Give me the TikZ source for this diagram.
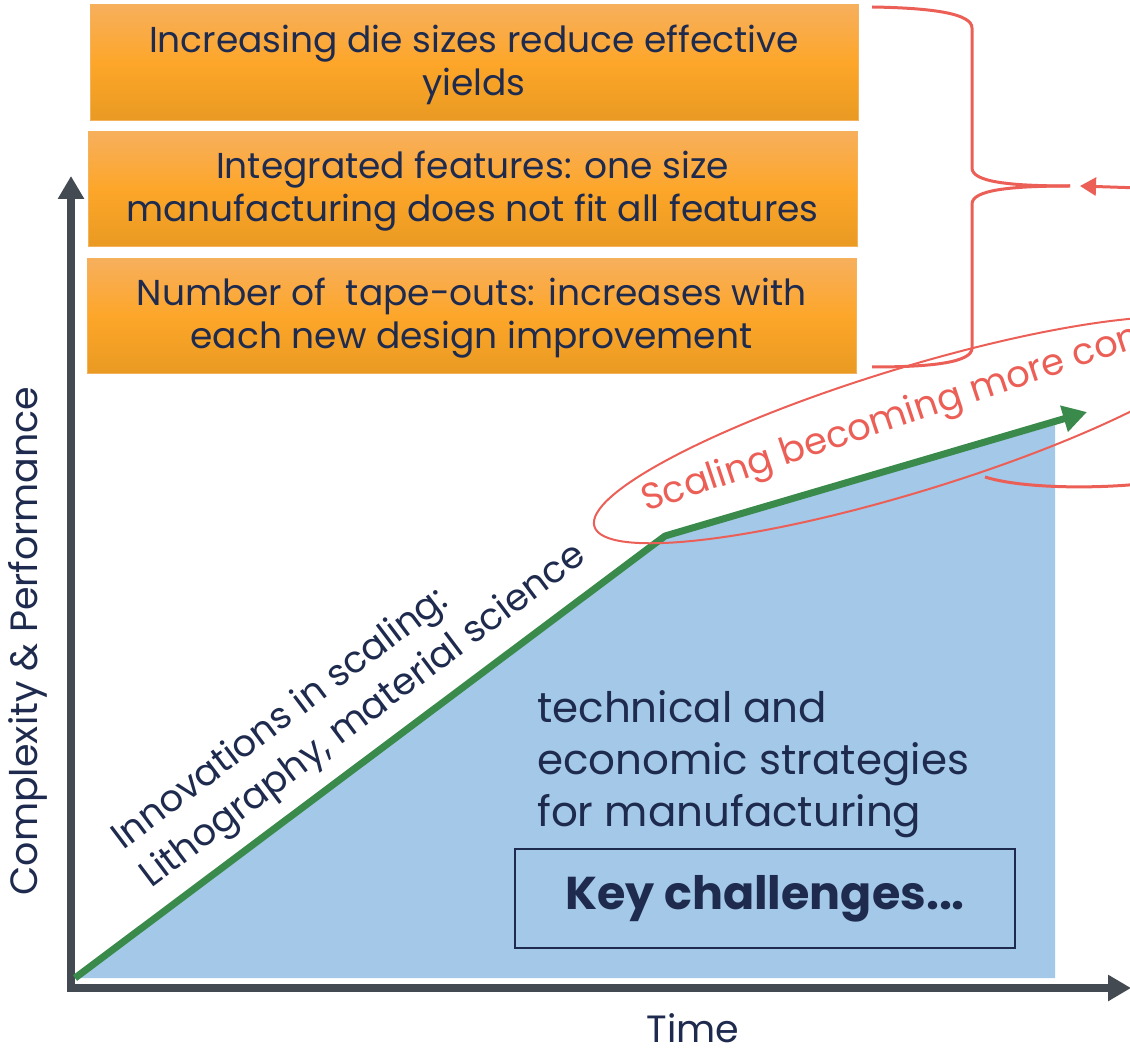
\documentclass[tikz,border=0pt]{standalone}
\usepackage{fontspec}
\setmainfont{Poppins}
\usetikzlibrary{positioning,arrows.meta}
\definecolor{navy}{HTML}{1E2B4E}
\definecolor{axisgray}{HTML}{434A52}
\definecolor{trendgreen}{HTML}{3A8A4C}
\definecolor{areablue}{HTML}{A3C8E8}
\definecolor{markred}{HTML}{EB5F57}
\definecolor{orangetop}{HTML}{F7AF5C}
\definecolor{orangemid}{HTML}{FDA629}
\definecolor{orangebot}{HTML}{E99A22}
\definecolor{orangeline}{HTML}{F5B25C}

\begin{document}
\begin{tikzpicture}[x=1pt,y=-1pt,
  orangebox/.style={rectangle, draw=orangeline, line width=1pt,
    top color=orangetop, bottom color=orangebot, middle color=orangemid,
    text=navy, align=center, inner sep=0pt,
    font=\fontsize{36}{43}\selectfont},
  bracket/.style={draw=markred, line width=3pt},
  axisline/.style={draw=axisgray, line width=8pt,
    -{Triangle[length=23pt,width=25pt]}},
  labeltext/.style={text=navy, font=\fontsize{38}{44}\selectfont}]
\useasboundingbox (0,0) rectangle (1130,1048);
\clip (0,0) rectangle (1130,1048);
% Area under the curve
\coordinate (origin) at (71,988);
\coordinate (start) at (75,978);
\coordinate (kink) at (665,536);
\coordinate (tip) at (1087,412);
\fill[areablue] (start) -- (kink) -- (1055,425) -- (1055,978) -- cycle;
% Axes
\coordinate (ytip) at (71,176);
\coordinate (xtip) at (1131,988);
\draw[axisline] (71,992) -- (ytip);
\draw[axisline] (67,988) -- (xtip);
% Trend line
\draw[trendgreen, line width=7pt, line join=round,
  -{Triangle[length=24pt,width=26pt]}] (start) -- (kink) -- (tip);
% Challenge boxes
\node[orangebox, minimum width=768pt, minimum height=116pt] (yields) at (474,63)
  {\rule{0pt}{31pt}Increasing die sizes reduce effective\\yields};
\node[orangebox, minimum width=769pt, minimum height=115pt] (features) at (472.5,189.5)
  {\rule{0pt}{31pt}Integrated features: one size\\manufacturing does not fit all features};
\node[orangebox, minimum width=769pt, minimum height=115pt] (tapeouts) at (471.5,316.5)
  {\rule{0pt}{31pt}Number of\ \ tape-outs: increases with\\each new design improvement};
% Brace and arrow
\coordinate (bracetip) at (1070,186);
\coordinate (arrowtip) at (1080,186);
\draw[bracket] (872,7) .. controls (935,8) and (972,14) .. (972,28) -- (972,168)
  .. controls (972,182) and (1010,186) .. (bracetip);
\draw[bracket] (bracetip) .. controls (1010,186) and (972,190) .. (972,204) -- (972,348)
  .. controls (972,362) and (935,367) .. (872,367);
\draw[markred, line width=3pt, -{Triangle[length=16pt,width=18pt]}] (1140,188) -- (arrowtip);
\draw[bracket] (985,477) .. controls (1020,488) and (1090,489) .. (1140,484);
% Ellipse with label
\coordinate (ringc) at (910,430);
\draw[markred, line width=2pt, rotate around={17:(ringc)}] (ringc) ellipse [x radius=330, y radius=62];
\node[text=markred, font=\fontsize{37}{44}\selectfont, anchor=base west, rotate=18.5,
  inner sep=0pt] (harder) at (646,512) {Scaling becoming more complex};
% Rotated text along the line
\node[labeltext, rotate=37, align=left, font=\fontsize{37}{47}\selectfont] (innov) at (350,698)
  {Innovations in scaling:\\Lithography, material science};
% Strategies
\node[labeltext, align=left, anchor=north west, inner sep=0pt,
  font=\fontsize{42}{52}\selectfont] (strat) at (537,690)
  {technical and\\economic strategies\\for manufacturing};
\node[draw=navy, line width=2pt, minimum width=500pt, minimum height=99pt, text=navy,
  font=\fontsize{46}{50}\selectfont\bfseries] (key) at (765,898.5) {Key challenges...};
% Axis labels
\node[labeltext, rotate=90] (ylab) at (28,641) {Complexity \& Performance};
\node[labeltext] (xlab) at (693,1028) {Time};
\end{tikzpicture}
\end{document}
